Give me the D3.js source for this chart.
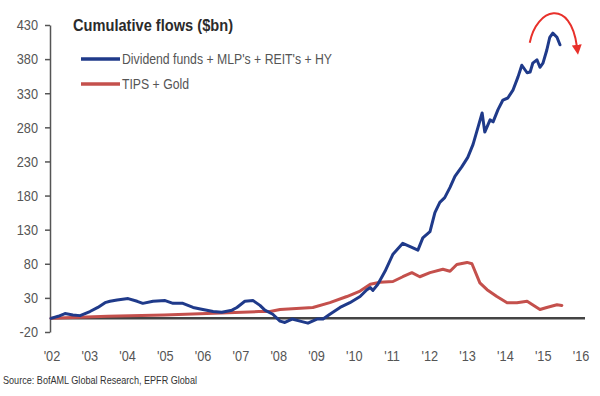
<!DOCTYPE html>
<html>
<head>
<meta charset="utf-8">
<script src="https://cdn.jsdelivr.net/npm/d3@7/dist/d3.min.js"></script>
<style>
  body { margin: 0; background: #fff; }
  svg text { font-family: "Liberation Sans Narrow", "Arial Narrow", "Liberation Sans", sans-serif; }
</style>
</head>
<body>
<svg id="chart" width="600" height="396"></svg>
<script>
// cumulative flows, $bn, decimal year
const dividendFlows = [
  [2002.00, 0], [2002.19, 3], [2002.37, 7], [2002.58, 5], [2002.77, 4],
  [2003.03, 10], [2003.24, 16], [2003.43, 23], [2003.56, 25], [2003.75, 27],
  [2004.04, 29], [2004.28, 25], [2004.43, 22], [2004.70, 25], [2005.02, 26],
  [2005.23, 22], [2005.49, 22], [2005.76, 16], [2006.02, 13], [2006.29, 10],
  [2006.52, 9], [2006.79, 12], [2006.92, 16], [2007.13, 25], [2007.35, 26],
  [2007.53, 19], [2007.66, 12], [2007.87, 6], [2008.06, -4], [2008.19, -6],
  [2008.38, -1], [2008.59, -4], [2008.80, -7], [2009.04, -1], [2009.20, -1],
  [2009.38, 6], [2009.65, 16], [2009.91, 23], [2010.18, 32], [2010.36, 42],
  [2010.45, 45], [2010.52, 41], [2010.65, 50], [2010.84, 69], [2011.05, 94],
  [2011.31, 110], [2011.55, 104], [2011.71, 100], [2011.84, 118], [2012.03, 127],
  [2012.16, 155], [2012.29, 170], [2012.42, 177], [2012.56, 192], [2012.69, 208],
  [2012.87, 222], [2013.03, 236], [2013.17, 255], [2013.30, 280], [2013.41, 301],
  [2013.48, 273], [2013.62, 291], [2013.70, 288], [2013.83, 306], [2013.96, 320],
  [2014.09, 323], [2014.23, 335], [2014.36, 354], [2014.46, 371], [2014.60, 360],
  [2014.68, 361], [2014.75, 374], [2014.86, 379], [2014.94, 368], [2015.02, 374],
  [2015.12, 393], [2015.20, 412], [2015.28, 418], [2015.39, 412], [2015.47, 401]
];

const tipsGoldFlows = [
  [2002.00, 0], [2003.50, 3], [2005.00, 5], [2006.50, 8], [2007.50, 10],
  [2007.80, 10], [2008.06, 13], [2008.93, 16], [2009.38, 23], [2009.83, 32],
  [2010.18, 40], [2010.45, 50], [2010.71, 53], [2011.05, 54], [2011.31, 61],
  [2011.55, 67], [2011.76, 61], [2012.03, 67], [2012.37, 72], [2012.56, 69],
  [2012.74, 79], [2013.01, 82], [2013.14, 80], [2013.35, 52], [2013.54, 42],
  [2013.80, 32], [2014.07, 23], [2014.33, 23], [2014.60, 25], [2014.94, 13],
  [2015.12, 16], [2015.39, 20], [2015.52, 19]
];

const yTicks = [-20, 30, 80, 130, 180, 230, 280, 330, 380, 430];
const xTicks = d3.range(2002, 2017);
const seriesNames = ["Dividend funds + MLP's + REIT's + HY", "TIPS + Gold"];
const seriesColors = ["#1f3a8a", "#c4504c"];

// red hand-drawn arrow, in data units
const arrowPath = [[2014.67, 404], [2014.85, 455], [2015.75, 470], [2015.92, 398]];

const svg = d3.select('#chart');

const x = d3.scaleLinear().domain([2002, 2016]).range([51, 580]);
const y = d3.scaleLinear().domain([-20, 430]).range([332, 25]);

// narrow look: squeeze glyphs horizontally around their anchor
function narrow(sel, k) {
    sel.each(function() {
        const t = d3.select(this);
        const ax = +t.attr('x') || 0;
        t.attr('transform', `translate(${ax * (1 - k)},0) scale(${k},1)`);
    });
}

// y axis
const yAxis = svg.append('g')
    .attr('transform', 'translate(50,0)')
    .call(d3.axisLeft(y).tickValues(yTicks).tickFormat(d => String(d))
        .tickSizeInner(5).tickSizeOuter(0).tickPadding(7));
yAxis.select('.domain').attr('stroke', '#555').attr('stroke-width', 1.5);
yAxis.selectAll('.tick line').attr('stroke', '#555').attr('stroke-width', 1.5);
yAxis.selectAll('.tick text').attr('fill', '#555').attr('font-size', 15)
    .attr('font-family', '"Liberation Sans Narrow", "Arial Narrow", sans-serif')
    .call(narrow, 0.85);

// x labels
svg.append('g')
    .selectAll('text')
    .data(xTicks)
    .enter()
    .append('text')
    .attr('x', d => x(d) + 1)
    .attr('y', 361)
    .attr('text-anchor', 'middle')
    .attr('font-size', 15)
    .attr('fill', '#555')
    .text(d => "'" + String(d).slice(2))
    .call(narrow, 0.85);

// zero line
svg.append('line')
    .attr('x1', 50).attr('x2', x(2016) + 5)
    .attr('y1', y(0)).attr('y2', y(0))
    .attr('stroke', '#444').attr('stroke-width', 2.5);

const line = d3.line().x(d => x(d[0])).y(d => y(d[1])).curve(d3.curveLinear);

[tipsGoldFlows, dividendFlows].forEach((data, i) => {
    svg.append('path')
        .datum(data)
        .attr('d', line)
        .attr('fill', 'none')
        .attr('stroke', seriesColors[1 - i])
        .attr('stroke-width', 3)
        .attr('stroke-linejoin', 'round')
        .attr('stroke-linecap', 'round');
});

// title
svg.append('text')
    .attr('x', 73).attr('y', 31)
    .attr('font-size', 17).attr('font-weight', 'bold').attr('fill', '#2b2b2b')
    .attr('textLength', 160).attr('lengthAdjust', 'spacingAndGlyphs')
    .text('Cumulative flows ($bn)');

// legend
const legendWidths = [210, 67];
seriesNames.forEach((name, i) => {
    const ly = 59 + i * 25;
    svg.append('line')
        .attr('x1', 81).attr('x2', 120).attr('y1', ly).attr('y2', ly)
        .attr('stroke', seriesColors[i]).attr('stroke-width', 3.5);
    svg.append('text')
        .attr('x', 122).attr('y', ly + 5)
        .attr('font-size', 14).attr('fill', '#555')
        .attr('textLength', legendWidths[i]).attr('lengthAdjust', 'spacingAndGlyphs')
        .text(name);
});

// source
svg.append('text')
    .attr('x', 3).attr('y', 384)
    .attr('font-size', 11).attr('fill', '#333')
    .attr('textLength', 194).attr('lengthAdjust', 'spacingAndGlyphs')
    .text('Source: BofAML Global Research, EPFR Global');

// arrow annotation
svg.append('defs').append('marker')
    .attr('id', 'head').attr('viewBox', '0 0 10 10')
    .attr('refX', 2).attr('refY', 5)
    .attr('markerWidth', 5).attr('markerHeight', 5)
    .attr('orient', 'auto')
    .append('path').attr('d', 'M0,0 L10,5 L0,10 Z').attr('fill', '#e8302a');

const ap = arrowPath.map(d => [x(d[0]), y(d[1])]);
svg.append('path')
    .attr('d', `M${ap[0]} C${ap[1]} ${ap[2]} ${ap[3]}`)
    .attr('fill', 'none')
    .attr('stroke', '#e8302a')
    .attr('stroke-width', 2)
    .attr('marker-end', 'url(#head)');
</script>
</body>
</html>
